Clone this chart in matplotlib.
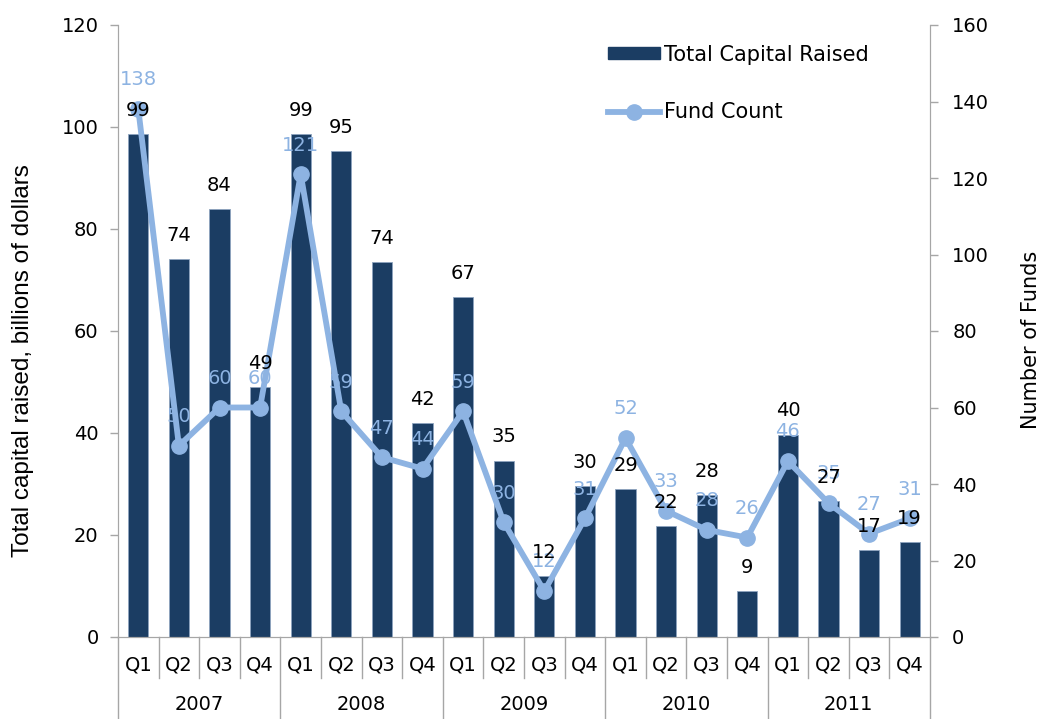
import matplotlib.pyplot as plt
import matplotlib.transforms as mtransforms
from matplotlib.patches import Patch
from matplotlib.lines import Line2D

plt.rcParams['font.family'] = ['DejaVu Sans']

# データ
years = ['2007', '2008', '2009', '2010', '2011']
quarters = ['Q1', 'Q2', 'Q3', 'Q4']
capital = [98.6, 74.1, 83.9, 49.0, 98.6, 95.2, 73.6, 41.9,
           66.7, 34.6, 12.0, 29.6, 29.0, 21.8, 27.9, 9.0,
           39.7, 26.6, 17.1, 18.6]
fund_count = [138, 50, 60, 60, 121, 59, 47, 44,
              59, 30, 12, 31, 52, 33, 28, 26,
              46, 35, 27, 31]

bar_color = '#1b3d63'
line_color = '#8db3e2'
axis_color = '#a6a6a6'
fs = 14

x = list(range(len(capital)))
q_labels = quarters * len(years)

fig = plt.figure(figsize=(10.49, 7.19), dpi=100)
ax = fig.add_axes([118 / 1049, 1 - 637 / 719, 812 / 1049, 612 / 719])
ax2 = ax.twinx()

ax.bar(x, capital, width=0.5, color=bar_color, edgecolor='#8ea4bf',
       linewidth=0.6, zorder=2)
ax2.plot(x, fund_count, color=line_color, linewidth=4.2, marker='o',
         markersize=11, zorder=3)

# ラベル（線の上に描く）
for xi, v in zip(x, fund_count):
    ax2.annotate(f'{v}', (xi, v), xytext=(0, 21), textcoords='offset points',
                 ha='center', va='center', fontsize=fs, color=line_color, zorder=5)
for xi, v in zip(x, capital):
    ax2.annotate(f'{v:.0f}', (xi, v), xycoords=ax.transData, xytext=(0, 17),
                 textcoords='offset points', ha='center', va='center',
                 fontsize=fs, color='black', zorder=6)

ax.set_xlim(-0.5, len(x) - 0.5)
ax.set_ylim(0, 120)
ax2.set_ylim(0, 160)
ax.set_yticks(range(0, 121, 20))
ax2.set_yticks(range(0, 161, 20))

for a in (ax, ax2):
    for s in a.spines.values():
        s.set_color(axis_color)
    a.spines['top'].set_visible(False)
    a.tick_params(axis='y', colors=axis_color, labelcolor='black',
                  labelsize=fs, length=6, width=1)
ax.tick_params(axis='y', pad=8)
ax2.tick_params(axis='y', pad=10)
ax.set_ylabel('Total capital raised, billions of dollars', fontsize=17.5,
              family='Liberation Sans')
ax2.set_ylabel('Number of Funds', fontsize=15)
ax.yaxis.set_label_coords(-0.103, 0.451)
ax2.yaxis.set_label_coords(1.112, 0.485)

# x軸（2段ラベル）
ax.set_xticks(x)
ax.set_xticklabels(q_labels, fontsize=fs)
ax.tick_params(axis='x', length=0, pad=13)

trans = mtransforms.blended_transform_factory(ax.transData, ax.transAxes)
for i in range(len(x) + 1):
    bottom = -0.134 if i % 4 == 0 else -0.067
    ax.plot([i - 0.5, i - 0.5], [0, bottom], color=axis_color, lw=1,
            transform=trans, clip_on=False)
for j, yr in enumerate(years):
    ax.text(j * 4 + 1.5, -0.111, yr, transform=trans, ha='center', va='center',
            fontsize=fs)

# 凡例
handles = [Patch(color=bar_color),
           Line2D([0], [0], color=line_color, lw=4.2, marker='o', markersize=11)]
fig.legend(handles, ['Total Capital Raised', 'Fund Count'],
           loc='upper left', bbox_to_anchor=(589 / 1049, 1 - 26 / 719),
           frameon=False, fontsize=15, handlelength=2.5, handleheight=0.5,
           handletextpad=0.2, labelspacing=1.8)

plt.savefig('out.png', dpi=100)
